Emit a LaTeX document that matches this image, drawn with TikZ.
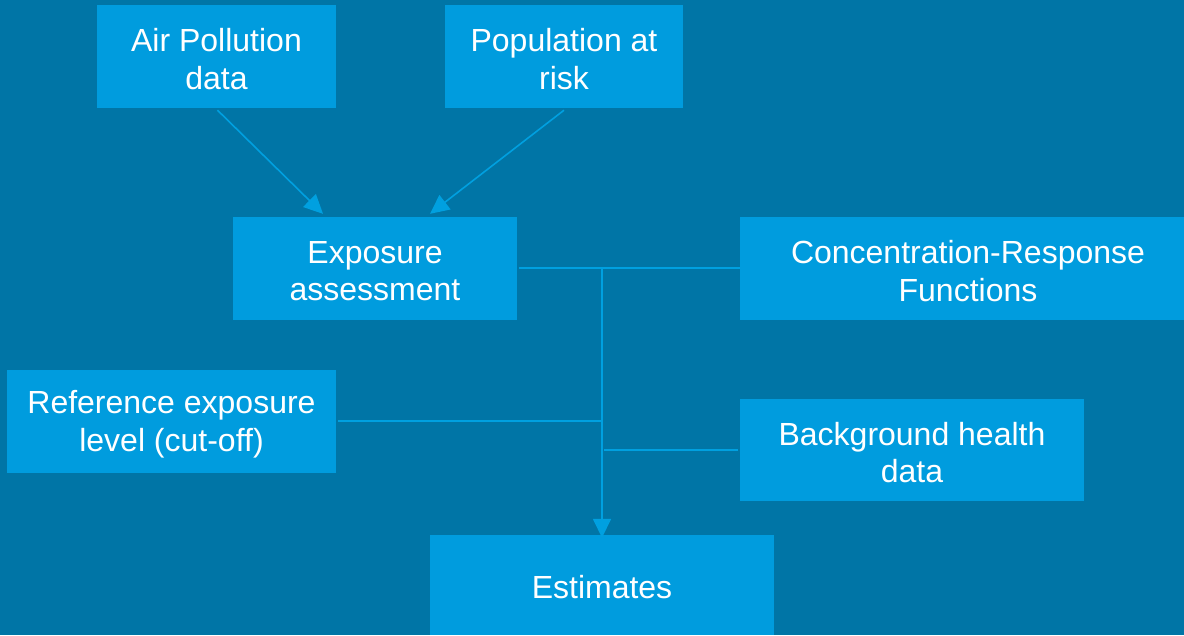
\documentclass[tikz,border=0pt]{standalone}
\usepackage{fontspec}
\setmainfont{Liberation Sans}
\usetikzlibrary{arrows.meta}
\definecolor{bg}{HTML}{0075A6}
\definecolor{boxc}{HTML}{009CDE}
\definecolor{linec}{HTML}{00A0E0}
\begin{document}
\begin{tikzpicture}[x=1pt,y=-1pt,
  box/.style={fill=boxc,draw=none,text=white,align=center,inner sep=0pt,
    font=\fontsize{32}{37.5}\selectfont},
  conn/.style={draw=linec,line width=1.6pt},
  arr/.style={conn,-{Triangle[length=19pt,width=18pt]}}]
\fill[bg] (0,0) rectangle (1184,635);
\useasboundingbox (0,0) rectangle (1184,635);
\newcommand{\mybox}[7]{\node[box,minimum width=#3-#2,minimum height=#5-#4] (#1) at ({(#2+#3)/2},{(#4+#5)/2}) {};
  \node[box,fill=none] at ({(#2+#3)/2+#7},{(#4+#5)/2+2.5}) {#6};}
\mybox{air}{97}{336}{5}{108}{Air Pollution\\data}{0}
\mybox{pop}{445}{683}{5}{108}{Population at\\risk}{0}
\mybox{exp}{233}{517}{217}{320}{Exposure\\assessment}{0}
\mybox{crf}{740}{1184}{217}{320}{Concentration-Response\\Functions}{6}
\mybox{ref}{7}{336}{370}{473}{Reference exposure\\level (cut-off)}{0}
\mybox{bhd}{740}{1084}{399}{501}{Background health\\data}{0}
\mybox{est}{430}{774}{535}{635}{Estimates}{0}
\coordinate (j1) at (602,268);
\coordinate (j2) at (602,421);
\coordinate (j3) at (604,450);
\draw[arr] ([xshift=1pt,yshift=-2pt]air.south) -- ([xshift=-52pt,yshift=3pt]exp.north);
\draw[arr] ([yshift=-2pt]pop.south) -- ([xshift=55pt,yshift=3pt]exp.north);
\draw[conn] ([xshift=2pt]exp.east |- j1) -- (crf.west |- j1);
\draw[conn] ([xshift=2pt]ref.east |- j2) -- (j2);
\draw[conn] (j3) -- ([xshift=-2pt]bhd.west |- j3);
\draw[arr] (j1) -- ([yshift=-3pt]est.north -| j1);
\end{tikzpicture}
\end{document}
